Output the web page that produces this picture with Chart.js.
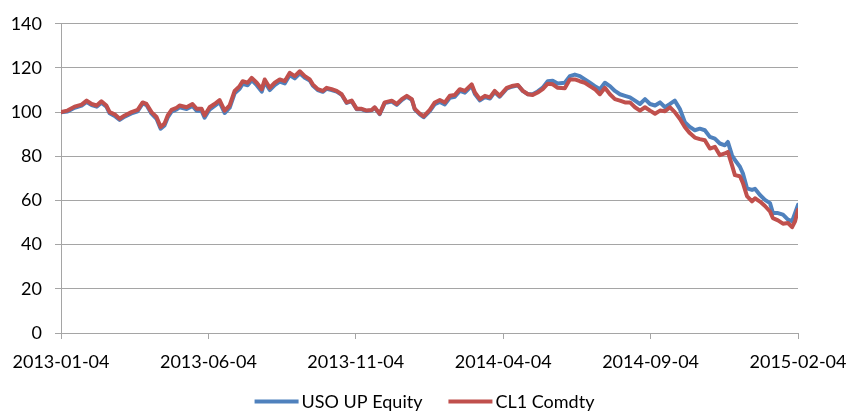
<!DOCTYPE html>
<html>
<head>
<meta charset="utf-8">
<script src="https://cdn.jsdelivr.net/npm/chart.js@4/dist/chart.umd.min.js"></script>
<style>
  html, body { margin: 0; padding: 0; background: #fff; }
</style>
</head>
<body>
<canvas id="chart" width="849" height="412"></canvas>
<script>
/*************************************************************
 * Data (x = months since 2013-01-04)
 *************************************************************/
const tickLabels = ["2013-01-04", "2013-06-04", "2013-11-04", "2014-04-04", "2014-09-04", "2015-02-04"];
const seriesNames = ["USO UP Equity", "CL1 Comdty"];

const months = [
  0, 0.22, 0.46, 0.70, 0.87, 1.04, 1.21, 1.37, 1.54, 1.65,
  1.82, 1.99, 2.16, 2.39, 2.60, 2.77, 2.90, 3.07, 3.24, 3.38,
  3.51, 3.62, 3.75, 3.92, 4.02, 4.26, 4.46, 4.60, 4.77, 4.87,
  5.04, 5.21, 5.38, 5.55, 5.72, 5.89, 6.06, 6.16, 6.33, 6.47,
  6.64, 6.81, 6.91, 7.08, 7.25, 7.42, 7.59, 7.76, 7.93, 8.10,
  8.27, 8.44, 8.54, 8.71, 8.88, 9.01, 9.18, 9.35, 9.52, 9.69,
  9.86, 10.03, 10.20, 10.37, 10.54, 10.64, 10.81, 10.98, 11.22, 11.39,
  11.56, 11.73, 11.90, 12.00, 12.17, 12.30, 12.51, 12.68, 12.85, 13.02,
  13.19, 13.36, 13.53, 13.70, 13.93, 14.04, 14.21, 14.38, 14.55, 14.71,
  14.88, 15.12, 15.29, 15.50, 15.67, 15.84, 16.00, 16.17, 16.34, 16.51,
  16.68, 16.85, 17.09, 17.26, 17.43, 17.60, 17.77, 17.94, 18.11, 18.28,
  18.45, 18.62, 18.79, 18.96, 19.13, 19.30, 19.47, 19.64, 19.81, 19.98,
  20.15, 20.32, 20.49, 20.66, 20.82, 20.99, 21.16, 21.33, 21.50, 21.67,
  21.84, 22.01, 22.18, 22.35, 22.52, 22.62, 22.76, 22.86, 23.03, 23.13,
  23.27, 23.44, 23.54, 23.71, 23.88, 24.05, 24.15, 24.32, 24.49, 24.66,
  24.80, 24.90, 25.00
];

const usoValues = [
  100, 100.3, 102, 103, 104.6, 103.2, 102.5, 104.3, 102.5, 99.5,
  98.3, 96.5, 98, 99.4, 100.4, 104, 103.2, 99.3, 97, 92.5,
  94, 97.6, 100.2, 101.2, 102.2, 101.4, 102.8, 100.6, 100.5, 97.5,
  101.2, 102.8, 104.5, 99.6, 102, 108.5, 110.6, 112.8, 112.2, 114.5,
  112.2, 109.3, 113.8, 110, 112.3, 113.8, 113, 116.8, 115.3, 117.6,
  115.6, 114.3, 112.1, 110, 109.2, 110.6, 110, 109.3, 107.9, 104.2,
  105, 101.3, 101.3, 100.5, 100.8, 102, 99.1, 104.1, 104.8, 103.3,
  105.5, 107, 105.6, 101.3, 99, 97.7, 100.5, 103.6, 104.6, 103.5,
  106.5, 107, 109.6, 108.8, 111.9, 108.2, 105.3, 106.8, 106.2, 109.1,
  107, 110.6, 111.5, 112.1, 109.5, 108.1, 108.1, 109.4, 111.1, 114,
  114.2, 113, 113.3, 116.3, 117, 116.3, 114.8, 113.3, 111.8, 110.4,
  113.3, 111.8, 109.6, 108.1, 107.4, 106.7, 105.2, 103.7, 105.9, 103.7,
  103, 104.4, 102.2, 103.7, 105.2, 101.5, 95.5, 93.3, 91.8, 92.5,
  91.8, 88.8, 88, 85.8, 85, 86.5, 80.5, 78.3, 75.3, 72.3,
  65.5, 64.8, 65.3, 62.5, 60.3, 58.8, 54.3, 54.3, 53.6, 51.3,
  50.6, 54.3, 58
];

const cl1Values = [
  100, 100.7, 102.5, 103.4, 105.2, 103.7, 103, 104.9, 103, 100,
  99, 97, 98.5, 100, 101, 104.4, 103.7, 100, 97.8, 93.3,
  94.8, 98.5, 101, 102, 103, 102.2, 103.7, 101.5, 101.5, 98.5,
  102.2, 103.7, 105.5, 100.7, 103, 109.6, 111.8, 114, 113.3, 115.5,
  113.3, 110.4, 114.8, 111, 113.3, 114.8, 114, 117.8, 116.3, 118.5,
  116.3, 114.8, 112.6, 110.4, 109.6, 111, 110.4, 109.6, 108.1, 104.4,
  105.2, 101.5, 101.5, 100.7, 101, 102.2, 99.3, 104.4, 105.2, 103.7,
  105.9, 107.4, 105.9, 101.5, 99.3, 98.1, 101, 104.4, 105.5, 104.4,
  107.4, 107.8, 110.4, 109.6, 112.6, 108.9, 105.9, 107.4, 106.7, 109.6,
  107.4, 111, 111.8, 112.3, 109.6, 108.1, 107.8, 108.9, 110.4, 112.9,
  112.6, 111, 110.8, 114.8, 114.8, 114, 113.3, 111.8, 110.4, 108.1,
  111, 108.1, 105.9, 105.2, 104.4, 104.4, 102.2, 100.7, 102.2, 100.7,
  99.3, 100.7, 100.4, 102.2, 100, 97, 93.3, 90.5, 88.5, 87.8,
  87.3, 83.5, 84.3, 80.5, 81.3, 82, 76, 71.5, 71, 68,
  62, 59.6, 61, 59.5, 57.5, 55, 52, 51, 49.5, 49.8,
  47.9, 50.6, 55.8
];

const toPoints = (values) => months.map((m, i) => ({ x: m, y: values[i] }));

/*************************************************************
 * Legend drawn under the axis (line sample + name)
 *************************************************************/
const bottomLegend = {
  id: "bottomLegend",
  afterDraw(chart) {
    const ctx = chart.ctx;
    const sample = 44;
    const gap = 3;
    const spacing = 26;
    const y = 401.5;

    ctx.save();
    ctx.font = "18px Lato";
    const items = chart.data.datasets.map((ds) => ({
      ds,
      w: ctx.measureText(ds.label).width,
    }));
    const total =
      items.reduce((sum, it) => sum + sample + gap + it.w, 0) +
      spacing * (items.length - 1);
    let x = chart.width / 2 - total / 2;

    items.forEach(({ ds, w }) => {
      ctx.strokeStyle = ds.borderColor;
      ctx.lineWidth = 4;
      ctx.beginPath();
      ctx.moveTo(x, y);
      ctx.lineTo(x + sample, y);
      ctx.stroke();
      x += sample + gap;
      ctx.fillStyle = "#000";
      ctx.textBaseline = "alphabetic";
      ctx.fillText(ds.label, x, y + 6.5);
      x += w + spacing;
    });
    ctx.restore();
  },
};

/*************************************************************
 * Chart
 *************************************************************/
const GRID_COLOR = "#a5a5a5";

Chart.defaults.font.family = "Lato";
Chart.defaults.font.size = 18;
Chart.defaults.color = "#000";

new Chart(document.getElementById("chart").getContext("2d"), {
  type: "line",
  data: {
    datasets: [
      {
        label: seriesNames[0],
        data: toPoints(usoValues),
        borderColor: "#4f81bd",
        borderWidth: 4,
        order: 2,
      },
      {
        label: seriesNames[1],
        data: toPoints(cl1Values),
        borderColor: "#c0504d",
        borderWidth: 4,
        order: 1,
      },
    ],
  },
  options: {
    responsive: false,
    animation: false,
    layout: {
      padding: { top: 20, right: 51, bottom: 39, left: 0 },
    },
    elements: {
      point: { radius: 0 },
      line: { tension: 0, borderJoinStyle: "round", borderCapStyle: "round" },
    },
    plugins: {
      legend: { display: false },
      tooltip: { enabled: false },
    },
    scales: {
      x: {
        type: "linear",
        min: 0,
        max: 25,
        afterFit: (scale) => {
          scale.height = 40;
          scale.paddingLeft = 0;
          scale.paddingRight = 0;
        },
        ticks: {
          stepSize: 5,
          padding: 12,
          maxRotation: 0,
          autoSkip: false,
          callback: (value) => tickLabels[value / 5],
        },
        grid: {
          drawOnChartArea: false,
          drawTicks: true,
          tickLength: 6,
          color: GRID_COLOR,
        },
        border: { color: GRID_COLOR },
      },
      y: {
        min: 0,
        max: 140,
        afterFit: (scale) => {
          scale.width = 61;
        },
        ticks: {
          stepSize: 20,
          padding: 13,
        },
        grid: {
          color: GRID_COLOR,
          tickLength: 6,
        },
        border: { color: GRID_COLOR },
      },
    },
  },
  plugins: [bottomLegend],
});
</script>
</body>
</html>
